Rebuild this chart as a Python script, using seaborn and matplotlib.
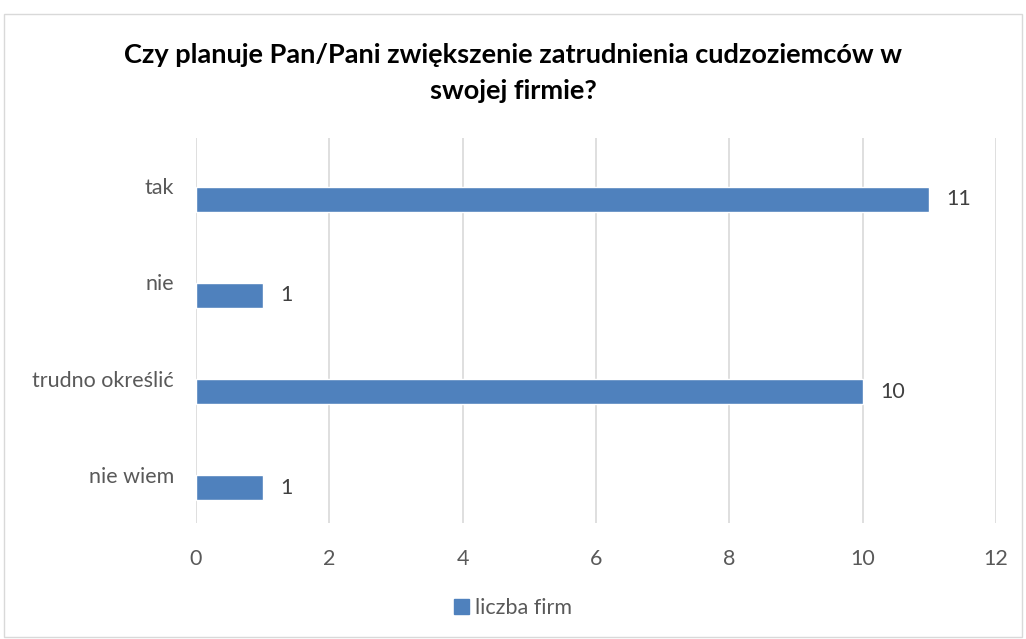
import matplotlib
matplotlib.use('Agg')
import matplotlib.pyplot as plt
import seaborn as sns
import pandas as pd
from matplotlib.patches import Rectangle

categories = ['tak', 'nie', 'trudno określić', 'nie wiem']
values = [11, 1, 10, 1]
series_name = 'liczba firm'
title = 'Czy planuje Pan/Pani zwiększenie zatrudnienia cudzoziemców w\nswojej firmie?'
x_ticks = [0, 2, 4, 6, 8, 10, 12]

bar_color = '#4F81BD'
text_color = '#595959'

sns.set_theme(style='white')
plt.rcParams['font.family'] = ['Lato', 'DejaVu Sans']

df = pd.DataFrame({'kategoria': categories, 'liczba': values})

fig = plt.figure(figsize=(10.26, 6.39), dpi=100)
ax = fig.add_axes([196 / 1026, 1 - 523 / 639, 800 / 1026, 385 / 639])

sns.barplot(data=df, y='kategoria', x='liczba', color=bar_color, width=0.26,
            saturation=1, ax=ax, order=categories)

# Excel places bars slightly below the category label
for p in ax.patches:
    p.set_y(p.get_y() + 0.135)

ax.set_ylim(len(categories) - 0.5, -0.5)
ax.set_xlim(0, 12)
ax.set_xticks(x_ticks)
ax.grid(axis='x', color='#D9D9D9', linewidth=1.2)
ax.set_axisbelow(True)
for s in ax.spines.values():
    s.set_visible(False)
ax.set_xlabel('')
ax.set_ylabel('')
ax.tick_params(axis='both', length=0, labelsize=15.5, colors=text_color)
ax.tick_params(axis='x', pad=19)
ax.tick_params(axis='y', pad=16)

for p, v in zip(ax.patches, values):
    ax.text(p.get_width() + 0.26, p.get_y() + p.get_height() / 2, str(v),
            va='center', ha='left', fontsize=15.5, color='#404040')

fig.text(0.5, 1 - 73 / 639, title, ha='center', va='center', fontsize=19.5,
         fontweight='bold', color='black', linespacing=1.6)

handle = Rectangle((0, 0), 1, 1, color=bar_color)
fig.legend([handle], [series_name], loc='center', bbox_to_anchor=(0.5, 1 - 608 / 639),
           frameon=False, fontsize=15.5, handlelength=0.7, handleheight=0.7,
           handletextpad=0.3, labelcolor=text_color)

fig.patches.append(Rectangle((4 / 1026, 2 / 639), 1018 / 1026, 623 / 639,
                             transform=fig.transFigure, fill=False,
                             edgecolor='#D9D9D9', linewidth=1))

fig.savefig('out.png', dpi=100)
